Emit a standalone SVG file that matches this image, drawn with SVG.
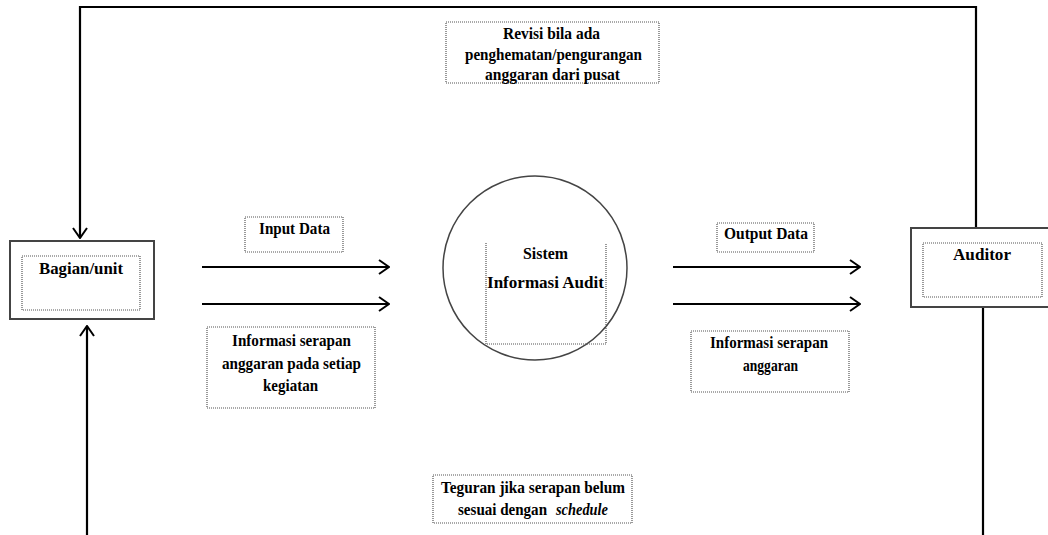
<svg xmlns="http://www.w3.org/2000/svg" width="1048" height="535" viewBox="0 0 1048 535">
  <style>
    .bg { fill: #ffffff; }
    .box { fill: #ffffff; stroke: #444444; stroke-width: 2; }
    .dot { fill: none; stroke: #555555; stroke-width: 1.2; stroke-dasharray: 1 1; }
    .flow { fill: none; stroke: #000000; stroke-width: 2.2; }
    .lbl { font-family: "Liberation Serif", "Times New Roman", serif; font-weight: bold; font-size: 17.5px; fill: #000000; text-anchor: middle; }
    .start { text-anchor: start; }
    .it { font-style: italic; }
  </style>
  <defs>
    <marker id="open" viewBox="0 0 12 16" refX="11" refY="8" markerWidth="12" markerHeight="16" markerUnits="userSpaceOnUse" orient="auto">
      <path d="M1 1 L11 8 L1 15" fill="none" stroke="#000000" stroke-width="2"/>
    </marker>
  </defs>
  <rect class="bg" x="0" y="0" width="1048" height="535"/>

  <!-- connectors -->
  <g id="connectors">
    <path class="flow" d="M976 228 V7 H80 V238" marker-end="url(#open)"/>
    <path class="flow" d="M87 535 V326" marker-end="url(#open)"/>
    <path class="flow" d="M983 307 V535"/>
    <path class="flow" d="M202 267 H389" marker-end="url(#open)"/>
    <path class="flow" d="M202 304 H389" marker-end="url(#open)"/>
    <path class="flow" d="M673 267 H860" marker-end="url(#open)"/>
    <path class="flow" d="M673 304 H860" marker-end="url(#open)"/>
  </g>

  <!-- source/sink: Bagian/unit -->
  <g id="node-bagian">
    <rect class="box" x="10" y="241" width="144" height="78"/>
    <rect class="dot" x="22" y="256" width="118" height="54"/>
    <text class="lbl" x="81" y="274" textLength="84" lengthAdjust="spacingAndGlyphs">Bagian/unit</text>
  </g>

  <!-- process -->
  <g id="node-sistem">
    <circle cx="535" cy="268" r="92" fill="#ffffff" stroke="#444444" stroke-width="1.5"/>
    <path class="dot" d="M486 243 V344 H606 V243"/>
    <text class="lbl" x="545.5" y="259" textLength="45" lengthAdjust="spacingAndGlyphs">Sistem</text>
    <text class="lbl" x="545.5" y="288" textLength="117" lengthAdjust="spacingAndGlyphs">Informasi Audit</text>
  </g>

  <!-- source/sink: Auditor -->
  <g id="node-auditor">
    <rect class="box" x="911" y="228" width="145" height="79"/>
    <rect class="dot" x="923" y="243" width="119" height="54"/>
    <text class="lbl" x="982" y="260" textLength="58" lengthAdjust="spacingAndGlyphs">Auditor</text>
  </g>

  <!-- flow labels -->
  <g id="label-revisi">
    <rect class="dot" x="446" y="22" width="213" height="61"/>
    <text class="lbl" x="551.5" y="39" textLength="97" lengthAdjust="spacingAndGlyphs">Revisi bila ada</text>
    <text class="lbl" x="553.5" y="60" textLength="177" lengthAdjust="spacingAndGlyphs">penghematan/pengurangan</text>
    <text class="lbl" x="552.5" y="80" textLength="135" lengthAdjust="spacingAndGlyphs">anggaran dari pusat</text>
  </g>

  <g id="label-input">
    <rect class="dot" x="245" y="217" width="98" height="35"/>
    <text class="lbl" x="294.5" y="234" textLength="71" lengthAdjust="spacingAndGlyphs">Input Data</text>
  </g>

  <g id="label-info-kegiatan">
    <rect class="dot" x="207" y="327" width="168" height="81"/>
    <text class="lbl" x="291.5" y="346" textLength="119" lengthAdjust="spacingAndGlyphs">Informasi serapan</text>
    <text class="lbl" x="291.5" y="369" textLength="139" lengthAdjust="spacingAndGlyphs">anggaran pada setiap</text>
    <text class="lbl" x="290.5" y="391" textLength="55" lengthAdjust="spacingAndGlyphs">kegiatan</text>
  </g>

  <g id="label-output">
    <rect class="dot" x="717" y="223" width="97" height="29"/>
    <text class="lbl" x="766" y="239" textLength="84" lengthAdjust="spacingAndGlyphs">Output Data</text>
  </g>

  <g id="label-info-anggaran">
    <rect class="dot" x="691" y="331" width="158" height="61"/>
    <text class="lbl" x="769" y="348" textLength="118" lengthAdjust="spacingAndGlyphs">Informasi serapan</text>
    <text class="lbl" x="770.5" y="371" textLength="55" lengthAdjust="spacingAndGlyphs">anggaran</text>
  </g>

  <g id="label-teguran">
    <rect class="dot" x="433" y="475" width="199" height="48"/>
    <text class="lbl" x="533" y="493" textLength="184" lengthAdjust="spacingAndGlyphs">Teguran jika serapan belum</text>
    <text class="lbl start" x="458" y="515" textLength="89" lengthAdjust="spacingAndGlyphs">sesuai dengan</text>
    <text class="lbl start it" x="556" y="515" textLength="52" lengthAdjust="spacingAndGlyphs">schedule</text>
  </g>
</svg>
